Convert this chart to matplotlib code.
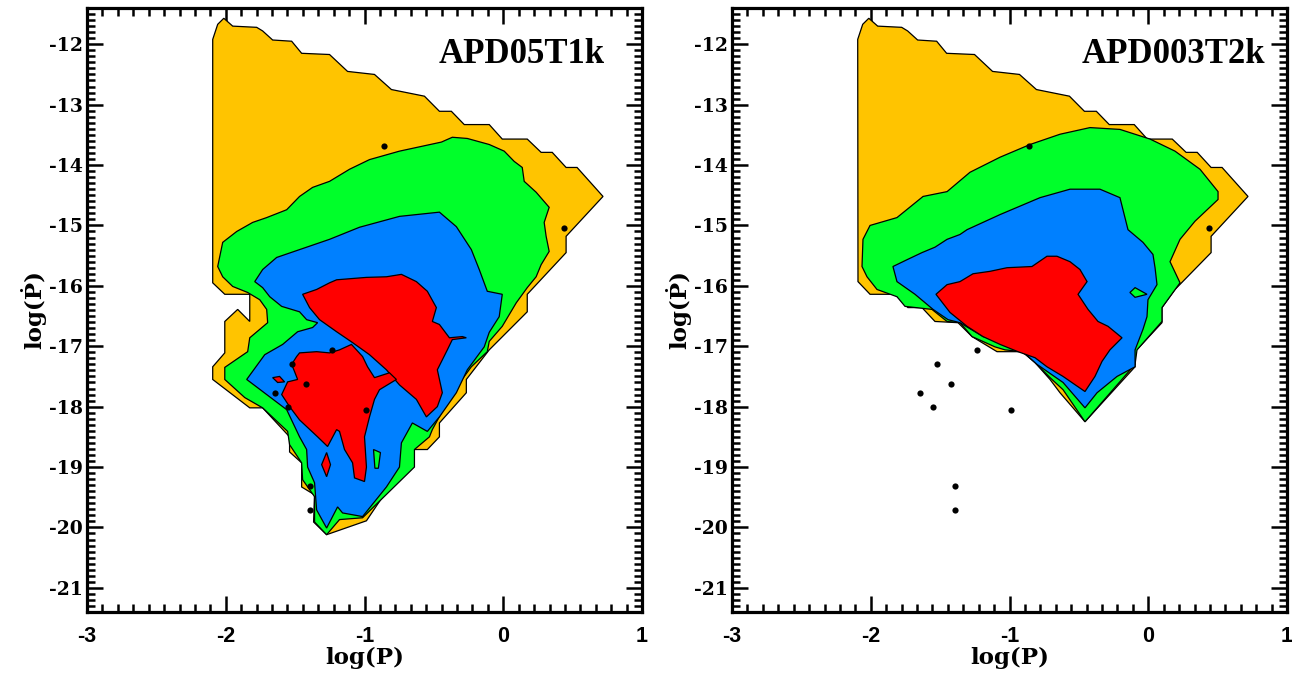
import matplotlib
matplotlib.use("Agg")
import matplotlib.pyplot as plt
from matplotlib.ticker import MultipleLocator

# ---------------- data (log P, log Pdot) ----------------
# shared outer (top/right) boundary of the outermost contour
top_x = [-2.094, -2.058, -2.014, -1.950, -1.777, -1.734, -1.662, -1.525, -1.453, -1.252,
         -1.122, -0.928, -0.806, -0.568, -0.460, -0.374, -0.281, -0.101, -0.007, 0.173,
         0.273, 0.353, 0.453, 0.532, 0.719, 0.453, 0.453]
top_y = [-11.92, -11.67, -11.57, -11.70, -11.72, -11.78, -11.93, -11.95, -12.15, -12.17,
         -12.45, -12.50, -12.75, -12.86, -13.11, -13.11, -13.33, -13.33, -13.57, -13.57,
         -13.79, -13.79, -14.04, -14.04, -14.52, -15.18, -15.45]

# ---- panel 1 : APD05T1k ----
p1_orange_x = top_x + [0.173, 0.173, -0.101, -0.266, -0.266, -0.460, -0.460, -0.547, -0.640,
                       -0.986, -1.273, -1.367, -1.360, -1.453, -1.453, -1.540, -1.540, -1.734,
                       -1.827, -2.094, -2.094, -2.007, -2.007, -1.914, -1.827, -1.827, -2.007, -2.094]
p1_orange_y = top_y + [-16.14, -16.43, -17.06, -17.55, -17.77, -18.27, -18.50, -18.71, -18.71,
                       -19.89, -20.12, -19.91, -19.46, -19.33, -18.93, -18.75, -18.50, -18.02,
                       -18.02, -17.55, -17.34, -17.11, -16.59, -16.39, -16.59, -16.14, -16.14, -15.95]

p1_green_x = [-1.252, -1.108, -0.964, -0.748, -0.446, -0.367, -0.259, -0.101, 0.007, 0.079,
              0.137, 0.151, 0.237, 0.331, 0.295, 0.309, 0.331, 0.273, 0.237, 0.173,
              0.094, -0.007, -0.101, -0.115, -0.230, -0.281, -0.367, -0.511, -0.532, -0.640,
              -0.640, -1.014, -1.180, -1.273, -1.360, -1.360, -1.446, -1.453, -1.540, -1.554,
              -1.734, -1.863, -2.007, -2.007, -1.842, -1.827, -1.698, -1.705, -1.755, -1.842,
              -1.950, -2.022, -2.058, -2.022, -1.921, -1.806, -1.705, -1.561, -1.468, -1.374]
p1_green_y = [-14.27, -14.07, -13.91, -13.77, -13.62, -13.54, -13.56, -13.66, -13.77, -13.94,
              -14.04, -14.27, -14.45, -14.70, -14.95, -15.18, -15.43, -15.65, -15.85, -16.03,
              -16.28, -16.67, -16.92, -17.09, -17.34, -17.50, -17.77, -18.38, -18.50, -18.71,
              -19.00, -19.84, -19.87, -20.12, -19.91, -19.49, -19.21, -18.93, -18.63, -18.41,
              -18.02, -17.85, -17.55, -17.35, -17.09, -16.86, -16.61, -16.39, -16.23, -16.11,
              -16.01, -15.85, -15.68, -15.28, -15.10, -14.95, -14.87, -14.74, -14.52, -14.37]

p1_blue_x = [-1.252, -1.036, -0.748, -0.460, -0.338, -0.230, -0.173, -0.115, -0.007, -0.029,
             -0.101, -0.137, -0.259, -0.338, -0.460, -0.547, -0.655, -0.734, -0.748, -0.842,
             -1.014, -1.158, -1.194, -1.273, -1.345, -1.360, -1.410, -1.417, -1.468, -1.561,
             -1.705, -1.849, -1.719, -1.590, -1.482, -1.374, -1.338, -1.417, -1.468, -1.597,
             -1.683, -1.734, -1.791, -1.734, -1.633, -1.468]
p1_blue_y = [-15.23, -15.03, -14.85, -14.78, -15.02, -15.40, -15.73, -16.09, -16.14, -16.51,
             -16.77, -17.01, -17.39, -17.77, -18.17, -18.41, -18.27, -18.60, -19.00, -19.33,
             -19.82, -19.76, -19.66, -20.01, -19.71, -19.26, -19.00, -18.71, -18.50, -18.05,
             -17.80, -17.55, -17.14, -16.97, -16.76, -16.69, -16.61, -16.56, -16.43, -16.34,
             -16.18, -16.03, -15.93, -15.73, -15.53, -15.40]

p1_red_a_x = [-1.446, -1.345, -1.252, -1.201, -0.986, -0.842, -0.734, -0.626, -0.547, -0.482,
              -0.511, -0.460, -0.388, -0.295, -0.266, -0.367, -0.403, -0.475, -0.439, -0.475,
              -0.554, -0.626, -0.748, -0.842, -0.964, -1.086, -1.201, -1.324, -1.396]
p1_red_a_y = [-16.14, -16.06, -15.95, -15.90, -15.86, -15.85, -15.81, -15.93, -16.09, -16.36,
              -16.59, -16.64, -16.86, -16.84, -16.86, -16.89, -17.06, -17.39, -17.77, -18.00,
              -18.17, -17.88, -17.64, -17.39, -17.14, -16.94, -16.76, -16.56, -16.36]

p1_red_b_x = [-1.489, -1.468, -1.345, -1.252, -1.180, -1.094, -1.014, -0.978, -0.928, -0.820,
              -0.770, -0.892, -0.928, -0.964, -1.000, -0.986, -1.000, -1.072, -1.086, -1.144,
              -1.180, -1.201, -1.266, -1.338, -1.468, -1.540, -1.597, -1.554, -1.482, -1.504, -1.525]
p1_red_b_y = [-17.17, -17.11, -17.09, -17.11, -17.06, -16.97, -17.17, -17.34, -17.52, -17.44,
              -17.55, -17.72, -17.88, -18.17, -18.50, -19.00, -19.24, -19.18, -18.93, -18.71,
              -18.41, -18.38, -18.66, -18.50, -18.22, -18.00, -17.80, -17.59, -17.55, -17.42, -17.30]

p1_red_c_x = [-1.273, -1.245, -1.273, -1.309]
p1_red_c_y = [-18.76, -18.96, -19.16, -18.96]
p1_red_d_x = [-1.662, -1.626, -1.576, -1.612]
p1_red_d_y = [-17.52, -17.60, -17.59, -17.50]
p1_green_isl_x = [-0.935, -0.885, -0.900, -0.925]
p1_green_isl_y = [-18.71, -18.76, -19.02, -19.02]

# ---- panel 2 : APD003T2k ----
p2_orange_x = top_x + [0.193, 0.099, 0.099, -0.095, -0.095, -0.456, -0.636, -0.708, -0.816,
                       -0.903, -1.090, -1.270, -1.371, -1.537, -1.631, -1.732, -1.825, -2.005, -2.092]
p2_orange_y = top_y + [-16.06, -16.36, -16.61, -17.09, -17.34, -18.25, -17.77, -17.55, -17.27,
                       -17.09, -17.09, -16.84, -16.61, -16.59, -16.36, -16.36, -16.14, -16.14, -15.93]

p2_green_x = [-2.056, -2.005, -1.811, -1.623, -1.450, -1.285, -1.068, -0.852, -0.636, -0.420,
              -0.204, 0.013, 0.193, 0.373, 0.503, 0.503, 0.337, 0.229, 0.157, 0.229,
              0.099, 0.099, -0.081, -0.095, -0.456, -0.614, -0.708, -0.816, -0.910, -1.032,
              -1.105, -1.270, -1.357, -1.450, -1.559, -1.753, -1.811, -1.955, -2.027, -2.063]
p2_green_y = [-15.23, -15.00, -14.87, -14.52, -14.44, -14.12, -13.87, -13.66, -13.49, -13.38,
              -13.41, -13.57, -13.77, -14.07, -14.44, -14.57, -14.93, -15.23, -15.60, -15.95,
              -16.36, -16.59, -17.06, -17.30, -18.25, -17.72, -17.52, -17.27, -17.09, -17.06,
              -17.01, -16.84, -16.61, -16.59, -16.39, -16.34, -16.18, -16.06, -15.85, -15.68]

p2_blue_x = [-1.840, -1.732, -1.631, -1.537, -1.450, -1.357, -1.306, -1.068, -0.780, -0.564,
             -0.348, -0.204, -0.146, -0.038, 0.034, 0.049, 0.063, -0.002, -0.009, -0.038,
             -0.095, -0.095, -0.225, -0.369, -0.456, -0.614, -0.802, -0.903, -1.068, -1.191,
             -1.357, -1.443, -1.551, -1.681, -1.811]
p2_blue_y = [-15.68, -15.56, -15.45, -15.36, -15.23, -15.15, -15.07, -14.82, -14.54, -14.40,
             -14.40, -14.54, -15.07, -15.28, -15.48, -15.70, -15.98, -16.23, -16.51, -16.72,
             -17.06, -17.34, -17.50, -17.77, -18.02, -17.60, -17.30, -17.09, -16.92, -16.84,
             -16.61, -16.56, -16.39, -16.14, -15.93]

p2_green_isl_x = [-0.132, -0.095, -0.009, -0.095]
p2_green_isl_y = [-16.11, -16.03, -16.14, -16.19]

p2_red_x = [-1.530, -1.450, -1.357, -1.263, -1.141, -1.018, -0.838, -0.730, -0.658, -0.564,
            -0.492, -0.441, -0.506, -0.434, -0.362, -0.290, -0.189, -0.276, -0.333, -0.384,
            -0.456, -0.614, -0.730, -0.816, -0.939, -1.068, -1.191, -1.306, -1.429]
p2_red_y = [-16.14, -15.98, -15.93, -15.80, -15.76, -15.70, -15.68, -15.51, -15.51, -15.60,
            -15.73, -15.93, -16.14, -16.39, -16.59, -16.67, -16.86, -17.06, -17.25, -17.50,
            -17.75, -17.50, -17.34, -17.19, -17.09, -16.97, -16.84, -16.67, -16.44]

# observed objects (same in both panels)
obs_logP = [-0.856, 0.439, -1.237, -1.525, -1.424, -1.647, -1.554, -0.986, -1.396, -1.396]
obs_logPdot = [-13.69, -15.05, -17.07, -17.30, -17.62, -17.77, -18.00, -18.05, -19.31, -19.71]

titles = ["APD05T1k", "APD003T2k"]
xticks = [-3, -2, -1, 0, 1]
yticks = [-12, -13, -14, -15, -16, -17, -18, -19, -20, -21]

C_OR, C_GR, C_BL, C_RD = "#FFC400", "#00FF2A", "#0080FF", "#FF0000"

panels = [
    [(p1_orange_x, p1_orange_y, C_OR), (p1_green_x, p1_green_y, C_GR),
     (p1_blue_x, p1_blue_y, C_BL), (p1_red_a_x, p1_red_a_y, C_RD),
     (p1_red_b_x, p1_red_b_y, C_RD), (p1_red_c_x, p1_red_c_y, C_RD),
     (p1_red_d_x, p1_red_d_y, C_RD), (p1_green_isl_x, p1_green_isl_y, C_GR)],
    [(p2_orange_x, p2_orange_y, C_OR), (p2_green_x, p2_green_y, C_GR),
     (p2_blue_x, p2_blue_y, C_BL), (p2_green_isl_x, p2_green_isl_y, C_GR),
     (p2_red_x, p2_red_y, C_RD)],
]

# ---------------- figure ----------------
fig = plt.figure(figsize=(12.92, 6.81), dpi=100)
ax_lefts = [87 / 1292, 732 / 1292]
serif_lab = ["DejaVu Serif"]
serif_title = ["Liberation Serif", "DejaVu Serif"]
title_x = [0.932, 0.960]

for i, polys in enumerate(panels):
    ax = fig.add_axes([ax_lefts[i], 69 / 681, 555 / 1292, 604 / 681])
    for px, py, col in polys:
        ax.fill(px, py, facecolor=col, edgecolor="black", linewidth=0.9, zorder=2)
    ax.scatter(obs_logP, obs_logPdot, s=20, color="black", zorder=3, linewidths=0)
    ax.set_xlim(-3, 1)
    ax.set_ylim(-21.4, -11.4)
    ax.set_xticks(xticks)
    ax.set_yticks(yticks)
    ax.xaxis.set_minor_locator(MultipleLocator(1 / 9))
    ax.yaxis.set_minor_locator(MultipleLocator(0.1))
    ax.tick_params(which="both", direction="in", top=True, right=True, width=1.8)
    ax.tick_params(which="major", length=11.5)
    ax.tick_params(which="minor", length=5.8)
    ax.tick_params(axis="x", pad=10)
    ax.tick_params(axis="y", pad=3)
    for s in ax.spines.values():
        s.set_linewidth(2.3)
    ax.set_xticklabels([str(t) for t in xticks], family="Liberation Sans",
                       fontweight="bold", fontsize=15.5)
    ax.set_yticklabels([str(t) for t in yticks], family=serif_lab,
                       fontweight="bold", fontsize=13.5)
    ax.set_xlabel("log(P)", family=serif_lab, fontweight="bold", fontsize=16.5, labelpad=0)
    ax.set_ylabel("log(\u1E56)", family=serif_lab, fontweight="bold", fontsize=16.5, labelpad=2)
    ax.text(title_x[i], 0.909, titles[i], transform=ax.transAxes, ha="right",
            va="baseline", family=serif_title, fontweight="bold", fontsize=25)

fig.savefig("out.png", dpi=100)
